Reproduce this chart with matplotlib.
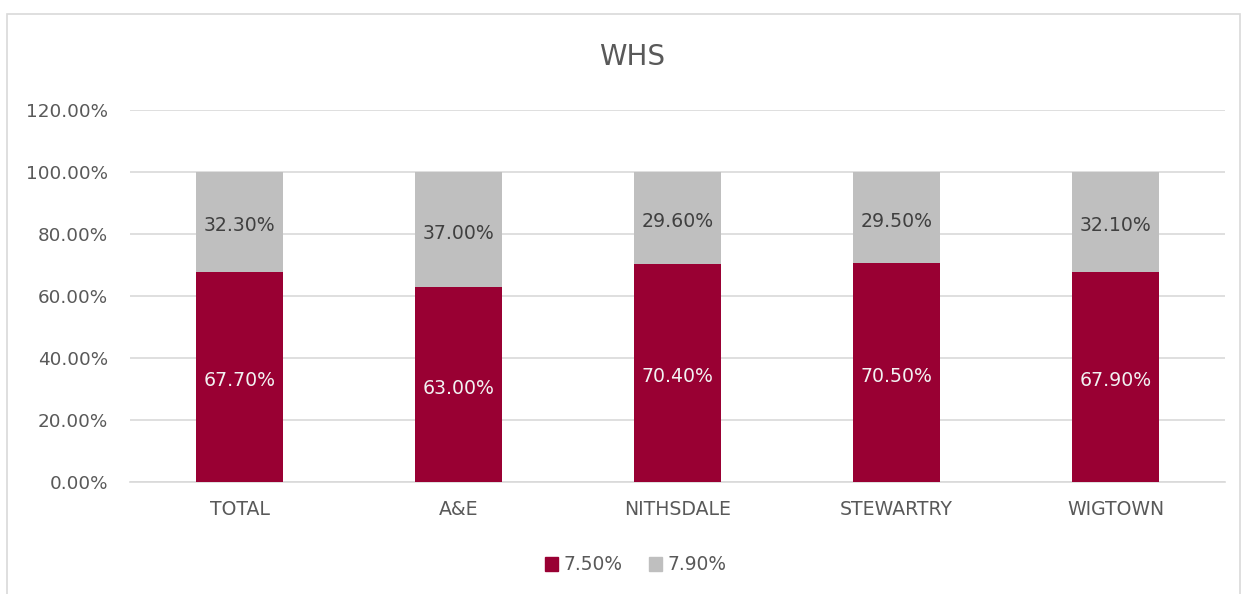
import matplotlib.pyplot as plt
from matplotlib.patches import Rectangle, Patch
from matplotlib.ticker import FuncFormatter

categories = ['TOTAL', 'A&E', 'NITHSDALE', 'STEWARTRY', 'WIGTOWN']
s750 = [67.7, 63.0, 70.4, 70.5, 67.9]
s790 = [32.3, 37.0, 29.6, 29.5, 32.1]
series_names = ['7.50%', '7.90%']

RED = '#990033'
GREY = '#bfbfbf'
TXT = '#595959'

plt.rcParams['font.family'] = ['DejaVu Sans']

fig = plt.figure(figsize=(12.44, 5.94), dpi=100)
fig.patches.append(Rectangle((7 / 1244, -0.1), (1240 - 7) / 1244, 1.1 - 14 / 594,
                             transform=fig.transFigure, fill=False,
                             edgecolor='#d9d9d9', linewidth=1.2))

ax = fig.add_axes([130 / 1244, 1 - 482 / 594, (1225 - 130) / 1244, (482 - 110) / 594])

x = list(range(len(categories)))
ax.bar(x, s750, width=0.4, color=RED, zorder=3)
ax.bar(x, s790, width=0.4, bottom=s750, color=GREY, zorder=3)

# data labels, nudged a little below centre like Excel does
for i in x:
    ax.text(i, s750[i] / 2 - 1.2, f'{s750[i]:.2f}%', ha='center', va='center',
            color='#f2f2f2', fontsize=13.6, zorder=4)
    ax.text(i, s750[i] + s790[i] / 2 - 1.2, f'{s790[i]:.2f}%', ha='center', va='center',
            color='#404040', fontsize=13.6, zorder=4)

ax.set_xlim(-0.5, len(categories) - 0.5)
ax.set_ylim(0, 120)
ax.set_yticks(range(0, 121, 20))
ax.yaxis.set_major_formatter(FuncFormatter(lambda v, p: f'{v:.2f}%'))
ax.set_xticks(x)
ax.set_xticklabels(categories)
ax.grid(axis='y', color='#d9d9d9', linewidth=1.2, zorder=0)
for sp in ['top', 'right', 'left']:
    ax.spines[sp].set_visible(False)
ax.spines['bottom'].set_color('#d9d9d9')
ax.spines['bottom'].set_linewidth(1.2)
ax.tick_params(axis='y', length=0, labelsize=13.2, labelcolor=TXT, pad=16)
ax.tick_params(axis='x', length=0, labelsize=13.6, labelcolor=TXT, pad=13)

fig.text(632 / 1244, 1 - 57 / 594, 'WHS', ha='center', va='center', fontsize=20, color=TXT)

handles = [Patch(color=RED), Patch(color=GREY)]
fig.legend(handles, series_names, loc='center', bbox_to_anchor=(636 / 1244, 1 - 565 / 594),
           ncol=2, frameon=False, fontsize=13.4, labelcolor=TXT, handlelength=0.7,
           handleheight=0.7, handletextpad=0.3, columnspacing=1.4)

fig.savefig('out.png', dpi=100)
